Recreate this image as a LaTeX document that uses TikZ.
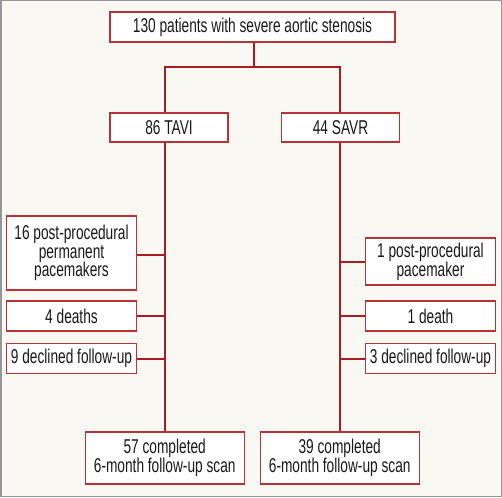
\documentclass[tikz,border=0pt]{standalone}
\usepackage{fontspec}
\setmainfont{Liberation Sans}[FakeStretch=0.685]
\definecolor{bg}{RGB}{249,248,243}
\definecolor{frame}{RGB}{150,150,150}
\definecolor{lnred}{RGB}{168,28,34}
\definecolor{boxred}{RGB}{185,50,55}
\begin{document}
\begin{tikzpicture}[x=1pt,y=-1pt,
  box/.style={draw=boxred, line width=1.3pt, fill=white, rectangle, inner sep=0pt,
    align=center, font=\fontsize{20}{18.7}\selectfont, text=black!90},
  conn/.style={draw=lnred, line width=2pt}]
\fill[bg] (0,0) rectangle (502,497);
\draw[frame, line width=1.5pt] (0.75,0.75) rectangle (501.25,496.25);
\useasboundingbox (0,0) rectangle (502,497);

\node[box, minimum width=285pt, minimum height=30pt] (top) at (252.5,27) {130 patients with severe aortic stenosis};
\node[box, minimum width=118pt, minimum height=29pt] (tavi) at (169,127.5) {86 TAVI};
\node[box, minimum width=118pt, minimum height=29pt] (savr) at (340.5,127.5) {44 SAVR};

\node[box, minimum width=130pt, minimum height=74pt] (p16) at (71.5,253) {16 post-procedural\\permanent\\pacemakers};
\node[box, minimum width=130pt, minimum height=30pt] (d4) at (71.5,316) {4 deaths};
\node[box, minimum width=130pt, minimum height=30pt] (f9) at (71.5,358.5) {9 declined follow-up};

\node[box, minimum width=130pt, minimum height=47pt] (p1) at (430.5,261.5) {1 post-procedural\\pacemaker};
\node[box, minimum width=130pt, minimum height=30pt] (d1) at (430.5,316) {1 death};
\node[box, minimum width=130pt, minimum height=30pt] (f3) at (430.5,358.5) {3 declined follow-up};

\node[box, minimum width=159pt, minimum height=52pt] (c57) at (164.7,458) {57 completed\\6-month follow-up scan};
\node[box, minimum width=159pt, minimum height=52pt] (c39) at (339.7,458) {39 completed\\6-month follow-up scan};

\coordinate (L) at (165,142);
\coordinate (R) at (340,142);
\coordinate (split) at (254,67);

\draw[conn] (top.south -| split) -- (split);
\draw[conn] (tavi.north -| L) |- (split) -| (savr.north -| R);
\draw[conn] (tavi.south -| L) -- (c57.north -| L);
\draw[conn] (savr.south -| R) -- (c39.north -| R);
\draw[conn] (p16.east |- 0,255) -- (L |- 0,255);
\draw[conn] (d4.east) -- (d4.east -| L);
\draw[conn] (f9.east) -- (f9.east -| L);
\draw[conn] (p1.west) -- (p1.west -| R);
\draw[conn] (d1.west) -- (d1.west -| R);
\draw[conn] (f3.west) -- (f3.west -| R);
\end{tikzpicture}
\end{document}
